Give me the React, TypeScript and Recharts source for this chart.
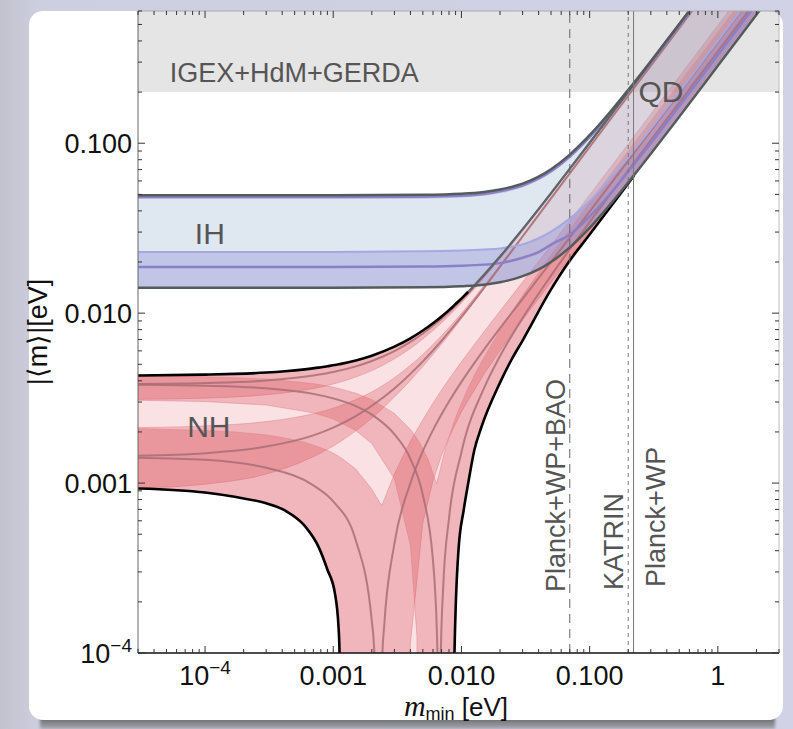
import React from 'react'
import {
  ComposedChart,
  Area,
  Line,
  XAxis,
  YAxis,
  ReferenceArea,
  ReferenceLine,
  ReferenceDot,
} from 'recharts'

const FONT = '"Liberation Sans", Arial, Helvetica, sans-serif'
const W = 793
const H = 729

const X_DOMAIN: [number, number] = [3e-5, 3]
const Y_DOMAIN: [number, number] = [1e-4, 0.6]

// axis ticks
const xMajorTicks = [1e-4, 1e-3, 1e-2, 1e-1, 1]
const xMajorLabels = ['10^-4', '0.001', '0.010', '0.100', '1']
const xMinorTicks = [
  3e-5, 4e-5, 5e-5, 6e-5, 7e-5, 8e-5, 9e-5,
  2e-4, 3e-4, 4e-4, 5e-4, 6e-4, 7e-4, 8e-4, 9e-4,
  0.002, 0.003, 0.004, 0.005, 0.006, 0.007, 0.008, 0.009,
  0.02, 0.03, 0.04, 0.05, 0.06, 0.07, 0.08, 0.09,
  0.2, 0.3, 0.4, 0.5, 0.6, 0.7, 0.8, 0.9,
  2, 3,
]
const yMajorTicks = [1e-4, 1e-3, 1e-2, 1e-1]
const yMajorLabels = ['10^-4', '0.001', '0.010', '0.100']
const yMinorTicks = [
  2e-4, 3e-4, 4e-4, 5e-4, 6e-4, 7e-4, 8e-4, 9e-4,
  0.002, 0.003, 0.004, 0.005, 0.006, 0.007, 0.008, 0.009,
  0.02, 0.03, 0.04, 0.05, 0.06, 0.07, 0.08, 0.09,
  0.2, 0.3, 0.4, 0.5, 0.6,
]

// experimental limits (eV)
const gerdaLimit = 0.2
const planckBaoLimit = 0.07
const katrinLimit = 0.2
const planckLimit = 0.22

// normal hierarchy: full allowed region
const nhEnvX = [
  3e-5, 1e-4, 1.7e-4, 3e-4, 4.2e-4, 6e-4, 7.7e-4, 9e-4, 1.03e-3, 1.1e-3, 1.12e-3, 1.15e-3,
  1.5e-3, 2e-3, 3e-3, 4e-3, 5e-3, 6e-3, 7e-3, 8e-3, 8.75e-3, 8.83e-3, 9.5e-3, 1.04e-2,
  1.13e-2, 1.26e-2, 1.43e-2, 0.02, 0.0245, 0.03, 0.05, 0.068, 0.1, 0.167, 0.222, 0.5, 1, 3,
]
const nhEnvLow = [
  0.00093, 0.00088, 0.00083, 0.00076, 0.00069, 0.00056, 0.00042, 0.00031, 0.000225, 0.000142, 0.0001, 1e-6,
  1e-6, 1e-6, 1e-6, 1e-6, 1e-6, 1e-6, 1e-6, 1e-6, 1e-6, 0.0001, 0.00041, 0.00069,
  0.001, 0.00156, 0.00213, 0.0039, 0.0053, 0.0069, 0.0138, 0.0198, 0.029, 0.0484, 0.0644, 0.1432, 0.2853, 0.855,
]
const nhEnvHigh = [
  0.0043, 0.00435, 0.00439, 0.00447, 0.00455, 0.00467, 0.00478, 0.00487, 0.00495, 0.005, 0.00501, 0.00503,
  0.00527, 0.00562, 0.00635, 0.00711, 0.0079, 0.00872, 0.00956, 0.01042, 0.01108, 0.01115, 0.01174, 0.01255,
  0.01337, 0.01456, 0.01614, 0.02153, 0.02586, 0.03121, 0.05088, 0.06875, 0.1006, 0.1676, 0.2225, 0.501, 1.002, 3.006,
]

// normal hierarchy: CP-conserving phase bands (alpha, beta) = (0,0), (0,pi), (pi,0), (pi,pi)
const bandZeroX = [3e-5, 1e-4, 3e-4, 7e-4, 0.001, 0.0015, 0.002, 0.003, 0.004, 0.005, 0.007, 0.01, 0.015, 0.02, 0.03, 0.05, 0.1, 0.2, 0.5, 1, 3]
const band00Low = [0.00311, 0.00316, 0.00331, 0.0036, 0.00383, 0.00421, 0.00459, 0.00539, 0.0062, 0.00705, 0.00878, 0.01149, 0.01616, 0.02094, 0.03063, 0.05025, 0.0997, 0.1991, 0.4972, 0.9944, 2.983]
const band00High = [0.0043, 0.00435, 0.00447, 0.00473, 0.00493, 0.00527, 0.00562, 0.00635, 0.00711, 0.0079, 0.00956, 0.01219, 0.01679, 0.02153, 0.03121, 0.05088, 0.1006, 0.2004, 0.501, 1.002, 3.006]
const band0pLow = [0.000935, 0.000985, 0.00113, 0.00143, 0.00165, 0.00203, 0.00241, 0.00321, 0.00402, 0.00486, 0.00658, 0.00927, 0.01389, 0.01859, 0.02809, 0.04717, 0.0948, 0.1896, 0.474, 0.948, 2.845]
const band0pHigh = [0.00212, 0.00217, 0.0023, 0.00256, 0.00276, 0.0031, 0.00344, 0.00417, 0.00493, 0.00572, 0.00736, 0.00997, 0.01451, 0.01918, 0.02866, 0.0478, 0.0957, 0.1917, 0.479, 0.958, 2.875]

const bandP0X = [
  3e-5, 1e-4, 1.7e-4, 3e-4, 4.2e-4, 6e-4, 7.7e-4, 9e-4, 1.03e-3, 1.1e-3, 1.12e-3, 1.15e-3,
  0.0015, 0.002, 0.0023, 0.0024, 0.0025, 0.003, 0.0035, 0.0038, 0.004, 0.005, 0.006, 0.007,
  0.008, 0.01, 0.015, 0.02, 0.03, 0.05, 0.1, 0.2, 0.5, 1, 3,
]
const bandP0Low = [
  0.00093, 0.00088, 0.00083, 0.00076, 0.00069, 0.00056, 0.00042, 0.00031, 0.000225, 0.000142, 0.0001, 1e-6,
  1e-6, 1e-6, 1e-6, 1e-6, 1e-6, 1e-6, 1e-6, 1e-6, 0.000114, 0.000585, 0.00103, 0.00146,
  0.00186, 0.00263, 0.00439, 0.00602, 0.00914, 0.0152, 0.0303, 0.0604, 0.151, 0.302, 0.906,
]
const bandP0High = [
  0.00209, 0.00204, 0.002, 0.00192, 0.00184, 0.00174, 0.00163, 0.00156, 0.00148, 0.00144, 0.00142, 0.00141,
  0.00121, 0.00092, 0.00077, 0.00074, 0.0008, 0.00113, 0.00144, 0.00163, 0.00176, 0.00236, 0.00295, 0.00353,
  0.00409, 0.00517, 0.00778, 0.01029, 0.01523, 0.02503, 0.0496, 0.0989, 0.247, 0.494, 1.482,
]

const bandPPX = [
  3e-5, 1e-4, 3e-4, 7e-4, 0.001, 0.0015, 0.002, 0.003, 0.004, 0.0045, 0.0047, 0.0055, 0.0064, 0.0075,
  0.00875, 0.00883, 0.0095, 0.0104, 0.0113, 0.0126, 0.0143, 0.02, 0.03, 0.05, 0.1, 0.2, 0.5, 1, 3,
]
const bandPPLow = [
  0.00307, 0.00302, 0.00288, 0.00259, 0.00238, 0.00204, 0.00171, 0.00106, 0.00043, 0.000125, 1e-6, 1e-6, 1e-6, 1e-6,
  1e-6, 0.0001, 0.00041, 0.00069, 0.001, 0.00156, 0.00213, 0.0039, 0.0069, 0.0138, 0.029, 0.058, 0.1432, 0.2853, 0.855,
]
const bandPPHigh = [
  0.00426, 0.00422, 0.0041, 0.00385, 0.00367, 0.00338, 0.0031, 0.00257, 0.00207, 0.00183, 0.00174, 0.00138, 0.00099, 0.0016,
  0.00229, 0.00233, 0.00269, 0.00316, 0.00363, 0.00429, 0.00515, 0.00794, 0.01269, 0.02195, 0.0447, 0.0899, 0.2249, 0.45, 1.35,
]

// normal hierarchy: best-fit curves for the four phase choices
const fitZeroX = [3e-5, 1e-4, 3e-4, 7e-4, 0.001, 0.0015, 0.002, 0.003, 0.004, 0.005, 0.006, 0.007, 0.008, 0.01, 0.015, 0.02, 0.03, 0.05, 0.1, 0.2, 0.5, 1, 3]
const fit00 = [0.00383, 0.00388, 0.00401, 0.00429, 0.0045, 0.00486, 0.00523, 0.00598, 0.00677, 0.00759, 0.00843, 0.00928, 0.01016, 0.01195, 0.01658, 0.02135, 0.03104, 0.0507, 0.1004, 0.2002, 0.5, 1.0, 3.0]
const fit0p = [0.00145, 0.0015, 0.00164, 0.00191, 0.00212, 0.00248, 0.00285, 0.0036, 0.00439, 0.0052, 0.00603, 0.00688, 0.00775, 0.00953, 0.0141, 0.01878, 0.02826, 0.04735, 0.095, 0.1903, 0.476, 0.952, 2.856]
const fitP0X = [3e-5, 1e-4, 3e-4, 7e-4, 0.001, 0.0015, 0.002, 0.0021, 0.00225, 0.0024, 0.0025, 0.003, 0.004, 0.005, 0.006, 0.007, 0.008, 0.01, 0.015, 0.02, 0.03, 0.05, 0.1, 0.2, 0.5, 1, 3]
const fitP0 = [0.00141, 0.00137, 0.00123, 0.00097, 0.00078, 0.00046, 0.000154, 0.000094, 1e-6, 0.000086, 0.000146, 0.00044, 0.001, 0.00154, 0.00205, 0.00254, 0.00302, 0.00394, 0.0061, 0.00816, 0.01214, 0.02, 0.0396, 0.079, 0.1974, 0.395, 1.184]
const fitPPX = [3e-5, 1e-4, 3e-4, 7e-4, 0.001, 0.0015, 0.002, 0.003, 0.004, 0.005, 0.006, 0.0062, 0.0064, 0.0066, 0.0067, 0.0069, 0.0072, 0.008, 0.01, 0.015, 0.02, 0.03, 0.05, 0.1, 0.2, 0.5, 1, 3]
const fitPP = [0.00379, 0.00374, 0.00361, 0.00335, 0.00315, 0.00284, 0.00253, 0.00194, 0.00139, 0.00085, 0.00035, 0.00025, 0.00015, 0.00005, 1e-6, 0.000095, 0.00024, 0.00062, 0.00152, 0.00362, 0.00559, 0.00936, 0.01664, 0.0343, 0.0692, 0.1733, 0.347, 1.04]

// inverted hierarchy
const ihX = [3e-5, 0.001, 0.005, 0.01, 0.015, 0.02, 0.025, 0.03, 0.04, 0.05, 0.07, 0.1, 0.15, 0.2, 0.3, 0.5, 1, 3]
const ihUpper = [0.0494, 0.0494, 0.0497, 0.0504, 0.0516, 0.0534, 0.0555, 0.0578, 0.0636, 0.0703, 0.0857, 0.1115, 0.1579, 0.206, 0.304, 0.5024, 1.0012, 3.0004]
const ihLower = [0.0141, 0.0141, 0.0142, 0.0144, 0.0147, 0.0152, 0.0158, 0.0165, 0.0181, 0.02, 0.0244, 0.0318, 0.045, 0.0587, 0.0866, 0.1432, 0.2853, 0.855]
const ihTopLow = [0.0469, 0.0469, 0.0472, 0.0479, 0.049, 0.0507, 0.0527, 0.0549, 0.0604, 0.0668, 0.0814, 0.1059, 0.15, 0.1957, 0.2888, 0.4773, 0.9511, 2.85]
const ihTopFit = [0.0482, 0.0482, 0.0485, 0.0491, 0.0503, 0.0521, 0.0541, 0.0564, 0.062, 0.0685, 0.0836, 0.1087, 0.154, 0.2009, 0.2964, 0.4898, 0.9762, 2.925]
const ihPhaseHigh = [0.0229, 0.0229, 0.0231, 0.0234, 0.0237, 0.024, 0.0247, 0.0254, 0.0276, 0.0302, 0.036, 0.0457, 0.064, 0.0824, 0.121, 0.2, 0.4, 1.2]
const ihPhaseFit = [0.0187, 0.0187, 0.0188, 0.019, 0.0193, 0.0197, 0.0204, 0.0212, 0.0229, 0.0253, 0.029, 0.037, 0.052, 0.068, 0.1, 0.165, 0.33, 0.99]

const pts = (xs: number[], ys: number[]) => xs.map((x, i) => ({ x, y: ys[i] }))
const band = (xs: number[], lo: number[], hi: number[]) => xs.map((x, i) => ({ x, r: [lo[i], hi[i]] }))

const nhEnvelope = band(nhEnvX, nhEnvLow, nhEnvHigh)
const nhTop = pts(nhEnvX, nhEnvHigh)
const nhBottom = pts(nhEnvX, nhEnvLow)
const nhTopBlack = nhTop.filter((p) => p.x <= 0.0113)
const nhTopGray = nhTop.filter((p) => p.x >= 0.0113)
const nhBottomLeft = nhBottom.filter((p) => p.x <= 1.15e-3)
const nhBottomRight = nhBottom.filter((p) => p.x >= 8.75e-3 && p.x <= 0.222)

const nhBands = [
  { key: 'b00', data: band(bandZeroX, band00Low, band00High), type: 'monotone' },
  { key: 'b0p', data: band(bandZeroX, band0pLow, band0pHigh), type: 'monotone' },
  { key: 'bp0', data: band(bandP0X, bandP0Low, bandP0High), type: 'linear' },
  { key: 'bpp', data: band(bandPPX, bandPPLow, bandPPHigh), type: 'linear' },
]
const nhFits = [
  { key: 'f00', data: pts(fitZeroX, fit00) },
  { key: 'f0p', data: pts(fitZeroX, fit0p) },
  { key: 'fp0', data: pts(fitP0X, fitP0) },
  { key: 'fpp', data: pts(fitPPX, fitPP) },
]

const majorIndex = (v: number, majors: number[]) =>
  majors.findIndex((m) => Math.abs(m - v) / m < 1e-6)

function TickLabel({ x, y, anchor, label }: { x: number; y: number; anchor: 'middle' | 'end'; label: string }) {
  const [base, exp] = label.split('^')
  return (
    <text x={x} y={y} textAnchor={anchor} fontFamily={FONT} fontSize={27} fill="#111">
      {base}
      {exp && (
        <tspan dy={-11} fontSize={19}>
          {exp.replace('-', '\u2212')}
        </tspan>
      )}
    </text>
  )
}

const TICK_COLOR = '#333'

function BottomTick(props: any) {
  const { x, y, payload } = props
  const i = majorIndex(payload.value, xMajorTicks)
  const len = i >= 0 ? 7 : 4
  return (
    <g>
      <line x1={x} x2={x} y1={y} y2={y - len} stroke={TICK_COLOR} strokeWidth={1} />
      {i >= 0 && <TickLabel x={x} y={y + 32} anchor="middle" label={xMajorLabels[i]} />}
    </g>
  )
}

function TopTick(props: any) {
  const { x, y, payload } = props
  const len = majorIndex(payload.value, xMajorTicks) >= 0 ? 7 : 4
  return <line x1={x} x2={x} y1={y} y2={y + len} stroke={TICK_COLOR} strokeWidth={1} />
}

function LeftTick(props: any) {
  const { x, y, payload } = props
  const i = majorIndex(payload.value, yMajorTicks)
  const len = i >= 0 ? 7 : 4
  return (
    <g>
      <line x1={x} x2={x + len} y1={y} y2={y} stroke={TICK_COLOR} strokeWidth={1} />
      {i >= 0 && <TickLabel x={x - 6} y={y + 10} anchor="end" label={yMajorLabels[i]} />}
    </g>
  )
}

function RightTick(props: any) {
  const { x, y, payload } = props
  const len = majorIndex(payload.value, yMajorTicks) >= 0 ? 7 : 4
  return <line x1={x} x2={x - len} y1={y} y2={y} stroke={TICK_COLOR} strokeWidth={1} />
}

// plain text placed at a data point (ReferenceDot with r=1)
const dotText = (text: string, size: number, anchor: 'start' | 'middle', dy: number) => (props: any) => {
  const vb = props.viewBox
  const cx = vb.x + vb.width / 2
  const cy = vb.y + vb.height / 2
  return (
    <text x={cx} y={cy + dy} textAnchor={anchor} fontFamily={FONT} fontSize={size} fill="#555">
      {text}
    </text>
  )
}

// rotated caption next to a vertical limit line
const lineText = (text: string, dx: number, up: number) => (props: any) => {
  const vb = props.viewBox
  const x0 = vb.x + dx
  const y0 = vb.y + vb.height - up
  return (
    <text
      x={x0}
      y={y0}
      transform={`rotate(-90 ${x0} ${y0})`}
      fontFamily={FONT}
      fontSize={27}
      fill="#555"
    >
      {text}
    </text>
  )
}

const yAxisLabel = () => (
  <text
    x={47}
    y={332}
    transform="rotate(-90 47 332)"
    textAnchor="middle"
    fontFamily={FONT}
    fontSize={27}
    fill="#111"
  >
    {'|\u27E8m\u27E9|[eV]'}
  </text>
)

const xAxisLabel = () => (
  <text x={456} y={716} textAnchor="middle" fontFamily={FONT} fontSize={26} fill="#111">
    <tspan fontFamily='"Liberation Serif", "Times New Roman", serif' fontStyle="italic" fontSize={30}>
      m
    </tspan>
    <tspan fontSize={18} dy={4}>
      min
    </tspan>
    <tspan dy={-4}> [eV]</tspan>
  </text>
)

function MassPlot() {
  return (
    <ComposedChart width={W} height={H} margin={{ top: 10, right: 13, bottom: 0, left: 0 }}>
      <XAxis
        dataKey="x"
        type="number"
        scale="log"
        domain={X_DOMAIN}
        allowDataOverflow
        ticks={[...xMinorTicks, ...xMajorTicks].sort((a, b) => a - b)}
        interval={0}
        tickSize={0}
        tickMargin={0}
        tick={<BottomTick />}
        tickLine={false}
        axisLine={{ stroke: '#111', strokeWidth: 1.5 }}
        height={76}
        label={xAxisLabel}
      />
      <XAxis
        xAxisId="top"
        orientation="top"
        dataKey="x"
        type="number"
        scale="log"
        domain={X_DOMAIN}
        allowDataOverflow
        ticks={[...xMinorTicks, ...xMajorTicks].sort((a, b) => a - b)}
        interval={0}
        tickSize={0}
        tickMargin={0}
        tick={<TopTick />}
        tickLine={false}
        axisLine={{ stroke: '#aaa', strokeWidth: 1 }}
        height={1}
      />
      <YAxis
        type="number"
        scale="log"
        domain={Y_DOMAIN}
        allowDataOverflow
        ticks={[...yMinorTicks, ...yMajorTicks].sort((a, b) => a - b)}
        interval={0}
        tickSize={0}
        tickMargin={0}
        tick={<LeftTick />}
        tickLine={false}
        axisLine={{ stroke: '#666', strokeWidth: 1 }}
        width={138}
        label={yAxisLabel}
      />
      <YAxis
        yAxisId="right"
        orientation="right"
        type="number"
        scale="log"
        domain={Y_DOMAIN}
        allowDataOverflow
        ticks={[...yMinorTicks, ...yMajorTicks].sort((a, b) => a - b)}
        interval={0}
        tickSize={0}
        tickMargin={0}
        tick={<RightTick />}
        tickLine={false}
        axisLine={{ stroke: '#bbb', strokeWidth: 1 }}
        width={1}
      />

      {/* 0vbb exclusion */}
      <ReferenceArea y1={gerdaLimit} y2={Y_DOMAIN[1]} fill="#000" fillOpacity={0.1} stroke="none" ifOverflow="hidden" />

      {/* NH */}
      <Area
        data={nhEnvelope}
        dataKey="r"
        type="monotone"
        fill="#de505f"
        fillOpacity={0.17}
        stroke="none"
        isAnimationActive={false}
        activeDot={false}
      />
      {nhBands.map((b) => (
        <Area
          key={b.key}
          data={b.data}
          dataKey="r"
          type={b.type as any}
          fill="#d9434f"
          fillOpacity={0.27}
          stroke="#e07d86"
          strokeWidth={0.8}
          strokeOpacity={0.6}
          isAnimationActive={false}
          activeDot={false}
        />
      ))}

      {/* IH */}
      <Area
        data={band(ihX, ihLower, ihUpper)}
        dataKey="r"
        type="monotone"
        fill="#9fb6d2"
        fillOpacity={0.33}
        stroke="none"
        isAnimationActive={false}
        activeDot={false}
      />
      <Area
        data={band(ihX, ihLower, ihPhaseHigh)}
        dataKey="r"
        type="monotone"
        fill="#8683d4"
        fillOpacity={0.34}
        stroke="none"
        isAnimationActive={false}
        activeDot={false}
      />
      <Area
        data={band(ihX, ihTopLow, ihUpper)}
        dataKey="r"
        type="monotone"
        fill="#8683d4"
        fillOpacity={0.3}
        stroke="none"
        isAnimationActive={false}
        activeDot={false}
      />

      {nhFits.map((f) => (
        <Line
          key={f.key}
          data={f.data}
          dataKey="y"
          type="monotone"
          stroke="#a86e75"
          strokeWidth={2}
          strokeOpacity={0.85}
          dot={false}
          activeDot={false}
          isAnimationActive={false}
        />
      ))}
      <Line data={pts(ihX, ihPhaseHigh)} dataKey="y" type="monotone" stroke="#a6a8e2" strokeWidth={2} dot={false} activeDot={false} isAnimationActive={false} />
      <Line data={pts(ihX, ihPhaseFit)} dataKey="y" type="monotone" stroke="#8a80c8" strokeWidth={2.5} dot={false} activeDot={false} isAnimationActive={false} />
      <Line data={pts(ihX, ihTopFit)} dataKey="y" type="monotone" stroke="#8a80c8" strokeWidth={2.5} dot={false} activeDot={false} isAnimationActive={false} />

      {/* outlines */}
      <Line data={nhTopBlack} dataKey="y" type="monotone" stroke="#000" strokeWidth={2.6} dot={false} activeDot={false} isAnimationActive={false} />
      <Line data={nhTopGray} dataKey="y" type="monotone" stroke="#5d6566" strokeWidth={2.2} dot={false} activeDot={false} isAnimationActive={false} />
      <Line data={nhBottomLeft} dataKey="y" type="monotone" stroke="#000" strokeWidth={2.6} dot={false} activeDot={false} isAnimationActive={false} />
      <Line data={nhBottomRight} dataKey="y" type="monotone" stroke="#000" strokeWidth={2.6} dot={false} activeDot={false} isAnimationActive={false} />
      <Line data={pts(ihX, ihUpper)} dataKey="y" type="monotone" stroke="#555b5d" strokeWidth={2.5} dot={false} activeDot={false} isAnimationActive={false} />
      <Line data={pts(ihX, ihLower)} dataKey="y" type="monotone" stroke="#555b5d" strokeWidth={2.5} dot={false} activeDot={false} isAnimationActive={false} />

      {/* mass limits */}
      <ReferenceLine x={planckBaoLimit} stroke="#666" strokeWidth={1} strokeDasharray="9 6" label={lineText('Planck+WP+BAO', -5, 61)} />
      <ReferenceLine x={katrinLimit} stroke="#777" strokeWidth={1} strokeDasharray="4 4" label={lineText('KATRIN', -5, 63)} />
      <ReferenceLine x={planckLimit} stroke="#777" strokeWidth={1} label={lineText('Planck+WP', 31, 66)} />

      {/* region captions */}
      <ReferenceDot x={5.3e-5} y={0.262} r={1} fill="none" stroke="none" label={dotText('IGEX+HdM+GERDA', 27, 'start', 10)} />
      <ReferenceDot x={1.09e-4} y={0.0296} r={1} fill="none" stroke="none" label={dotText('IH', 30, 'middle', 11)} />
      <ReferenceDot x={1.07e-4} y={0.00216} r={1} fill="none" stroke="none" label={dotText('NH', 30, 'middle', 11)} />
      <ReferenceDot x={0.36} y={0.2025} r={1} fill="none" stroke="none" label={dotText('QD', 30, 'middle', 11)} />
    </ComposedChart>
  )
}

export default function App() {
  return (
    <div
      style={{
        position: 'absolute',
        left: 0,
        top: 0,
        width: W,
        height: H,
        overflow: 'hidden',
        background: 'linear-gradient(90deg, #c3c3cf 0%, #cdcedf 5%, #d1d2e6 100%)',
      }}
    >
      <div
        style={{
          position: 'absolute',
          left: 40,
          top: 716,
          width: 735,
          height: 13,
          background: 'linear-gradient(180deg, #5e5e62 0%, #8a8a92 60%, #a8a8b4 100%)',
          filter: 'blur(1.5px)',
        }}
      />
      <div
        style={{
          position: 'absolute',
          left: 29,
          top: 11,
          width: 754,
          height: 709,
          background: '#fff',
          borderRadius: 14,
        }}
      />
      <div style={{ position: 'absolute', left: 0, top: 0 }}>
        <MassPlot />
      </div>
    </div>
  )
}
